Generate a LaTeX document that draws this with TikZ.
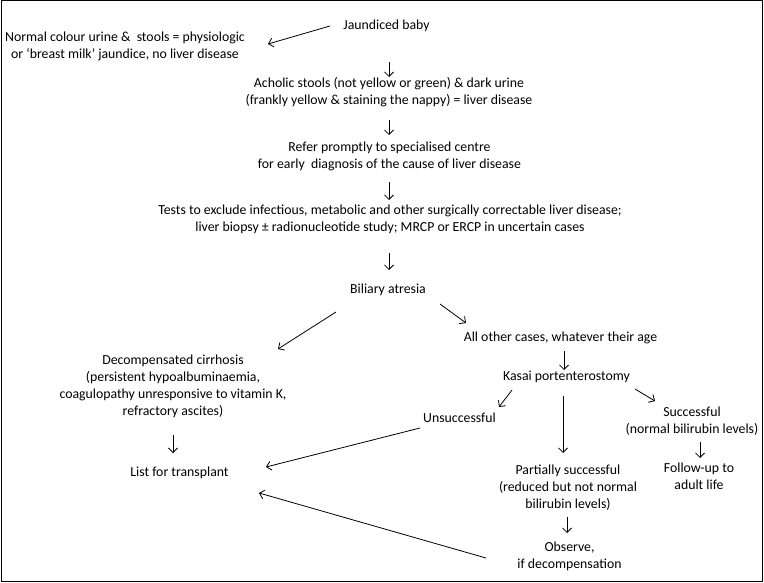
\documentclass[tikz,border=0pt]{standalone}
\usepackage{fontspec}
\setmainfont{Carlito}
\usetikzlibrary{arrows.meta,calc}
\tikzset{
  txt/.style={align=center, inner sep=0pt, font=\fontsize{13.8}{16.8}\selectfont},
  arr/.style={draw, line width=0.8pt, -{Straight Barb[length=4.5pt,width=9pt]}},
  frame/.style={draw, line width=1pt}
}
\begin{document}
\begin{tikzpicture}[x=1pt,y=-1pt]
\useasboundingbox (0,0) rectangle (764,583);
\draw[frame] (1.5,1) rectangle (762,581);
\node[txt] (j) at (386.5,26) {Jaundiced baby};
\node[txt] (n) at (125,46.5) {Normal colour urine \&\ \ stools = physiologic\\or ‘breast milk’ jaundice, no liver disease};
\node[txt] (a) at (389,92.5) {Acholic stools (not yellow or green) \& dark urine\\(frankly yellow \& staining the nappy) = liver disease};
\node[txt] (r) at (389.5,156) {Refer promptly to specialised centre\\for early\ \ diagnosis of the cause of liver disease};
\node[txt] (t) at (390,219.5) {Tests to exclude infectious, metabolic and other surgically correctable liver disease;\\liver biopsy ± radionucleotide study; MRCP or ERCP in uncertain cases};
\node[txt] (b) at (388,290) {Biliary atresia};
\node[txt] (d) at (173,386.5) {Decompensated cirrhosis\\(persistent hypoalbuminaemia,\\coagulopathy unresponsive to vitamin K,\\refractory ascites)};
\node[txt] (l) at (179.5,473) {List for transplant};
\node[txt] (ao) at (560.5,338) {All other cases, whatever their age};
\node[txt] (k) at (566.5,377) {Kasai portenterostomy};
\node[txt] (u) at (459.5,418) {Unsuccessful};
\node[txt] (s) at (692,421) {Successful\\(normal bilirubin levels)};
\node[txt] (f) at (699,476) {Follow-up to\\adult life};
\node[txt] (p) at (568,487.5) {Partially successful\\(reduced but not normal\\bilirubin levels)};
\node[txt] (o) at (569.5,556.5) {Observe,\\if decompensation};

\draw[arr] ($(j)+(-56.5,0)$) -- ($(n)+(143,-2.5)$);
\draw[arr] ($(j)+(2.5,36)$) -- ($(a)+(0,-15.5)$);
\draw[arr] ($(a)+(0,27.5)$) -- ($(r)+(-0.5,-21)$);
\draw[arr] ($(r)+(-0.5,26)$) -- ($(t)+(-1,-19.5)$);
\draw[arr] ($(t)+(-1,33.5)$) -- ($(b)+(1,-20)$);
\draw[arr] ($(b)+(-52,22)$) -- ($(d)+(105,-37.5)$);
\draw[arr] ($(b)+(52,14)$) -- ($(ao)+(-94.5,-15)$);
\draw[arr] ($(ao)+(3.5,13)$) -- ($(k)+(-2.5,-7)$);
\draw[arr] ($(k)+(-54.5,13)$) -- ($(u)+(39.5,-11)$);
\draw[arr] ($(k)+(-3.5,19)$) -- ($(p)+(-5,-34.5)$);
\draw[arr] ($(k)+(68.5,12)$) -- ($(s)+(-37,-20)$);
\draw[arr] ($(s)+(8,21)$) -- ($(f)+(1,-18)$);
\draw[arr] ($(p)+(-1,29.5)$) -- ($(o)+(-2.5,-23.5)$);
\draw[arr] ($(d)+(0,48.5)$) -- ($(l)+(-6.5,-20)$);
\draw[arr] ($(u)+(-39.5,10)$) -- ($(l)+(86.5,-6)$);
\draw[arr] ($(o)+(-83.5,1.5)$) -- ($(l)+(79.5,20)$);
\end{tikzpicture}
\end{document}
